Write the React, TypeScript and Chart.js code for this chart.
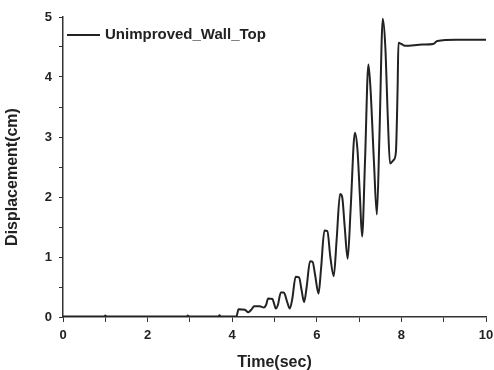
import React, { useEffect, useRef } from "react";
import { Chart, registerables } from "chart.js";

Chart.register(...registerables);

const seriesLabel = "Unimproved_Wall_Top";
const xTitle = "Time(sec)";
const yTitle = "Displacement(cm)";

const timeValues = [
  0, 0.5, 0.98, 1.0, 1.03, 1.5, 2.0, 2.5, 2.93, 2.95, 2.98, 3.5, 3.68, 3.7, 3.73, 4.1,
  4.15, 4.3, 4.38, 4.45, 4.52, 4.65, 4.75, 4.8, 4.85, 4.95, 5.0, 5.03, 5.08, 5.15, 5.22,
  5.3, 5.36, 5.42, 5.5, 5.58, 5.64, 5.7, 5.76, 5.84, 5.9, 5.96, 6.04, 6.1, 6.18, 6.25,
  6.32, 6.4, 6.47, 6.55, 6.6, 6.66, 6.73, 6.8, 6.9, 6.96, 7.02, 7.07, 7.14, 7.22, 7.27,
  7.35, 7.42, 7.48, 7.56, 7.62, 7.68, 7.73, 7.82, 7.87, 7.91, 7.93, 8.0, 8.08, 8.5,
  8.75, 8.85, 9.3, 10,
];

const displacementValues = [
  0.01, 0.01, 0.01, 0.025, 0.01, 0.01, 0.01, 0.01, 0.01, 0.025, 0.01, 0.01, 0.01, 0.03, 0.01, 0.01,
  0.13, 0.12, 0.08, 0.12, 0.18, 0.18, 0.16, 0.2, 0.31, 0.3, 0.2, 0.14, 0.2, 0.41, 0.41,
  0.25, 0.14, 0.3, 0.67, 0.66, 0.45, 0.25, 0.5, 0.93, 0.92, 0.7, 0.39, 0.8, 1.44, 1.43,
  1.0, 0.68, 1.3, 2.05, 2.0, 1.5, 0.97, 1.8, 3.07, 2.8, 2.0, 1.34, 2.6, 4.21, 3.8,
  2.6, 1.71, 3.0, 4.97, 4.5, 3.3, 2.56, 2.62, 2.75, 3.8, 4.57, 4.55, 4.52, 4.54,
  4.55, 4.6, 4.62, 4.62,
];

const xMin = 0;
const xMax = 10;
const yMin = 0;
const yMax = 5;

const FONT_FAMILY = "Arial, 'Liberation Sans', sans-serif";

const overlayPlugin = {
  id: "overlayText",
  afterDraw(chart: any) {
    const { ctx, chartArea } = chart;
    const y = chartArea.top + 18;
    const x0 = chartArea.left + 4;
    ctx.save();
    ctx.strokeStyle = "#222";
    ctx.lineWidth = 2;
    ctx.beginPath();
    ctx.moveTo(x0, y);
    ctx.lineTo(x0 + 33, y);
    ctx.stroke();
    ctx.fillStyle = "#222";
    ctx.font = "bold 15px " + FONT_FAMILY;
    ctx.textBaseline = "middle";
    ctx.textAlign = "left";
    ctx.fillText(chart.data.datasets[0].label, x0 + 38, y);
    ctx.font = "bold 16px " + FONT_FAMILY;
    ctx.textAlign = "center";
    ctx.translate(13, (chartArea.top + chartArea.bottom) / 2 + 10);
    ctx.rotate(-Math.PI / 2);
    ctx.fillText(yTitle, 0, 0);
    ctx.restore();
  },
};

export default function App() {
  const ref = useRef<HTMLCanvasElement | null>(null);

  useEffect(() => {
    document.body.style.margin = "0";
    const canvas = ref.current;
    if (!canvas) return;
    const font = { family: FONT_FAMILY, weight: "bold" as const };
    const chart = new Chart(canvas, {
      type: "line",
      data: {
        datasets: [
          {
            label: seriesLabel,
            data: timeValues.map((t, i) => ({ x: t, y: displacementValues[i] })),
            borderColor: "#222",
            borderWidth: 2,
            pointRadius: 0,
            tension: 0.35,
            cubicInterpolationMode: "monotone",
            fill: false,
          },
        ],
      },
      plugins: [overlayPlugin],
      options: {
        animation: false,
        responsive: false,
        maintainAspectRatio: false,
        layout: { padding: { top: 17, right: 0, left: 0, bottom: 0 } },
        plugins: {
          legend: { display: false },
          tooltip: { enabled: false },
        },
        scales: {
          x: {
            type: "linear",
            min: xMin,
            max: xMax,
            afterFit: (s: any) => {
              s.height = 53;
              s.paddingRight = 8;
              s.paddingLeft = 0;
            },
            border: { display: true, color: "#333", width: 1.5 },
            grid: { drawOnChartArea: false, drawTicks: true, tickLength: 5, color: "#333" },
            ticks: {
              stepSize: 1,
              autoSkip: false,
              maxRotation: 0,
              padding: 6,
              color: "#222",
              font: { ...font, size: 13 },
              callback: (v: any) => (Number(v) % 2 === 0 ? String(v) : ""),
            },
            title: {
              display: true,
              text: xTitle,
              color: "#222",
              font: { ...font, size: 16 },
              padding: { top: 0, bottom: -2 },
            },
          },
          y: {
            type: "linear",
            min: yMin,
            max: yMax,
            afterFit: (s: any) => {
              s.width = 63;
            },
            border: { display: true, color: "#333", width: 1.5 },
            grid: { drawOnChartArea: false, drawTicks: true, tickLength: 4, color: "#333" },
            ticks: {
              stepSize: 0.5,
              autoSkip: false,
              padding: 7,
              color: "#222",
              font: { ...font, size: 13 },
              callback: (v: any) => (Number.isInteger(Number(v)) ? String(v) : ""),
            },
          },
        },
      },
    });
    return () => chart.destroy();
  }, []);

  return (
    <div style={{ width: 494, height: 370, background: "#fff" }}>
      <canvas ref={ref} width={494} height={370} />
    </div>
  );
}
